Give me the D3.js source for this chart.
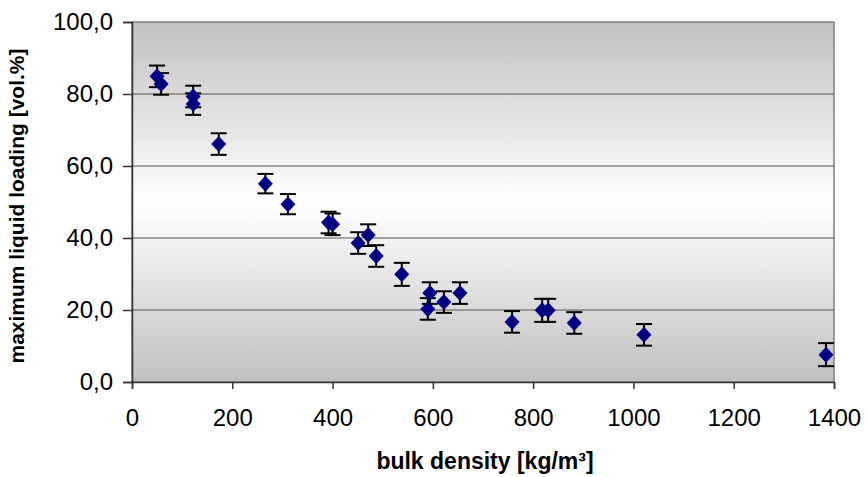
<!DOCTYPE html>
<html>
<head>
<meta charset="utf-8">
<script src="https://cdn.jsdelivr.net/npm/d3@7"></script>
<style>
  body { margin: 0; background: #fff; }
  text { font-family: "Liberation Sans", Arial, sans-serif; }
</style>
</head>
<body>
<div id="chart"></div>
<script>
// bulk density [kg/m3] vs. maximum liquid loading [vol.%]
const density = [50, 58, 122, 122, 173, 266, 311, 392, 400, 451, 471, 487, 538, 590, 594, 622, 654, 758, 818, 830, 882, 1021, 1384];
const loading = [84.9, 82.8, 79.3, 77.2, 66.1, 55.1, 49.4, 44.3, 43.8, 38.6, 40.8, 35.0, 29.9, 20.3, 24.7, 22.2, 24.7, 16.7, 19.9, 19.9, 16.4, 13.1, 7.6];
const errors  = [3.0, 3.0, 3.0, 3.0, 3.0, 2.7, 2.8, 3.0, 3.0, 3.0, 3.0, 3.0, 3.2, 3.0, 3.0, 3.0, 3.0, 3.0, 3.2, 3.2, 3.0, 3.0, 3.2];
const xTicks = [0, 200, 400, 600, 800, 1000, 1200, 1400];
const yTicks = [0, 20, 40, 60, 80, 100];

const data = density.map((d, i) => ({ x: d, y: loading[i], e: errors[i] }));

const W = 865, H = 477;
const margin = { top: 22, right: 31, bottom: 95, left: 132 };
const width = W - margin.left - margin.right;
const height = H - margin.top - margin.bottom;

const root = d3.select("#chart")
  .append("svg")
  .attr("width", W)
  .attr("height", H);

const defs = root.append("defs");
const grad = defs.append("linearGradient")
  .attr("id", "bg")
  .attr("x1", 0).attr("y1", 0).attr("x2", 0).attr("y2", 1);
grad.append("stop").attr("offset", "0%").attr("stop-color", "#c0c0c0");
grad.append("stop").attr("offset", "50%").attr("stop-color", "#ffffff");
grad.append("stop").attr("offset", "100%").attr("stop-color", "#c0c0c0");

const svg = root.append("g")
  .attr("transform", `translate(${margin.left},${margin.top})`);

const x = d3.scaleLinear().domain([0, 1400]).range([0, width]);
const y = d3.scaleLinear().domain([0, 100]).range([height, 0]);

// plot area
svg.append("rect")
  .attr("width", width)
  .attr("height", height)
  .attr("fill", "url(#bg)")
  .attr("stroke", "#808080")
  .attr("stroke-width", 1.5);

// gridlines
svg.selectAll(".grid")
  .data(yTicks.filter(t => t > 0 && t < 100))
  .enter()
  .append("line")
  .attr("x1", 0)
  .attr("x2", width)
  .attr("y1", d => y(d))
  .attr("y2", d => y(d))
  .attr("stroke", "#555")
  .attr("stroke-width", 1);

// Axes
const fmt = d => d3.format(".1f")(d).replace(".", ",");

const gx = svg.append("g")
  .attr("transform", `translate(0,${height})`)
  .call(d3.axisBottom(x).tickValues(xTicks).tickSize(7).tickPadding(20).tickFormat(d3.format("d")));

const gy = svg.append("g")
  .call(d3.axisLeft(y).tickValues(yTicks).tickSize(9).tickPadding(10).tickFormat(fmt));

[gx, gy].forEach(g => {
  g.select(".domain").attr("stroke", "#333").attr("stroke-width", 1.5);
  g.selectAll(".tick line").attr("stroke", "#333").attr("stroke-width", 1.5);
  g.selectAll(".tick text")
    .attr("fill", "#000")
    .style("font-size", "24px")
    .style("font-family", "'Liberation Sans', Arial, sans-serif");
});

// Axis Labels
svg.append("text")
  .attr("text-anchor", "middle")
  .attr("x", width / 2 + 2)
  .attr("y", height + 87)
  .style("font-size", "23px")
  .style("font-weight", "bold")
  .text("bulk density [kg/m³]");

svg.append("text")
  .attr("text-anchor", "middle")
  .attr("transform", "rotate(-90)")
  .attr("x", -184)
  .attr("y", -108)
  .style("font-size", "21px")
  .style("font-weight", "bold")
  .text("maximum liquid loading [vol.%]");

// Error bars
const eb = svg.selectAll(".eb")
  .data(data)
  .enter()
  .append("g")
  .attr("stroke", "#000")
  .attr("stroke-width", 2);

eb.append("line")
  .attr("x1", d => x(d.x)).attr("x2", d => x(d.x))
  .attr("y1", d => y(d.y - d.e)).attr("y2", d => y(d.y + d.e));
eb.append("line")
  .attr("x1", d => x(d.x) - 8).attr("x2", d => x(d.x) + 8)
  .attr("y1", d => y(d.y + d.e)).attr("y2", d => y(d.y + d.e));
eb.append("line")
  .attr("x1", d => x(d.x) - 8).attr("x2", d => x(d.x) + 8)
  .attr("y1", d => y(d.y - d.e)).attr("y2", d => y(d.y - d.e));

// Diamonds
svg.selectAll(".pt")
  .data(data)
  .enter()
  .append("path")
  .attr("transform", d => `translate(${x(d.x)},${y(d.y)})`)
  .attr("d", "M0,-8L7.5,0L0,8L-7.5,0Z")
  .attr("fill", "#000080");
</script>
</body>
</html>
